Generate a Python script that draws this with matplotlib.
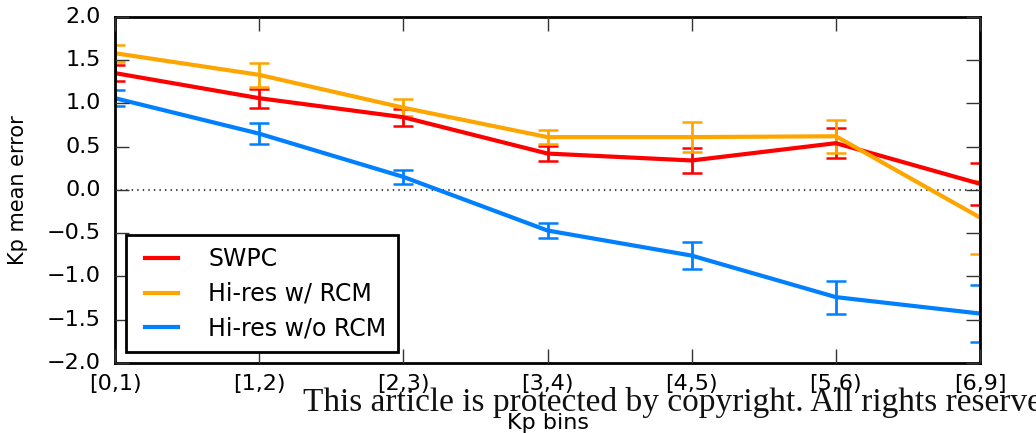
import matplotlib
matplotlib.use("Agg")
import matplotlib.pyplot as plt
from matplotlib.lines import Line2D

# Kp bins and mean prediction error (with standard error) per model
kp_bins = ["[0,1)", "[1,2)", "[2,3)", "[3,4)", "[4,5)", "[5,6)", "[6,9]"]

swpc_err = [1.35, 1.06, 0.84, 0.42, 0.34, 0.54, 0.07]
swpc_se = [0.09, 0.11, 0.10, 0.09, 0.14, 0.17, 0.24]

rcm_err = [1.58, 1.33, 0.95, 0.61, 0.61, 0.62, -0.32]
rcm_se = [0.10, 0.14, 0.10, 0.08, 0.17, 0.19, 0.42]

norcm_err = [1.06, 0.65, 0.15, -0.47, -0.76, -1.24, -1.43]
norcm_se = [0.09, 0.12, 0.08, 0.09, 0.16, 0.19, 0.33]

SERIES = [
    ("SWPC", swpc_err, swpc_se, "#ff0000"),
    ("Hi-res w/ RCM", rcm_err, rcm_se, "#ffa500"),
    ("Hi-res w/o RCM", norcm_err, norcm_se, "#0080ff"),
]


def main():
    plt.style.use("classic")
    plt.rcParams["font.family"] = ["DejaVu Sans"]
    plt.rcParams["font.size"] = 16
    plt.rcParams["axes.linewidth"] = 2

    fig = plt.figure(figsize=(10.36, 4.33), dpi=100, facecolor="white")
    ax = fig.add_axes([0.111, 0.162, 0.835, 0.799])

    x = list(range(len(kp_bins)))
    ax.axhline(0, color="#444444", linestyle=":", linewidth=1.5, zorder=1)

    handles = []
    for nombre, valores, errores, color in SERIES:
        ax.errorbar(x, valores, yerr=errores, color=color, linewidth=3,
                    elinewidth=2, capsize=7, capthick=1.8)
        handles.append(Line2D([], [], color=color, linewidth=3, label=nombre))

    ax.set_xlim(0, 6)
    ax.set_ylim(-2, 2)
    ax.set_xticks(x)
    ax.set_xticklabels(kp_bins)
    ax.set_yticks([-2.0, -1.5, -1.0, -0.5, 0.0, 0.5, 1.0, 1.5, 2.0])
    ax.tick_params(length=10, width=1, labelsize=16, color="#333333")
    ax.tick_params(axis="x", pad=8)
    ax.tick_params(axis="y", pad=10)
    ax.set_xlabel("Kp bins", fontsize=16, labelpad=14)
    ax.set_ylabel("Kp mean error", fontsize=15, labelpad=14)

    leg = ax.legend(handles=handles, loc="lower left", fontsize=17,
                    handlelength=2.0, handletextpad=1.0, borderpad=0.5,
                    labelspacing=0.45, borderaxespad=0.45)
    leg.get_frame().set_linewidth(2)
    leg.get_frame().set_edgecolor("black")

    fig.text(303 / 1036, 1 - 411 / 433,
             "This article is protected by copyright. All rights reserved",
             family="Liberation Serif", fontsize=24, color="#111111")

    fig.savefig("out.png", dpi=100, facecolor="white")


if __name__ == "__main__":
    main()
